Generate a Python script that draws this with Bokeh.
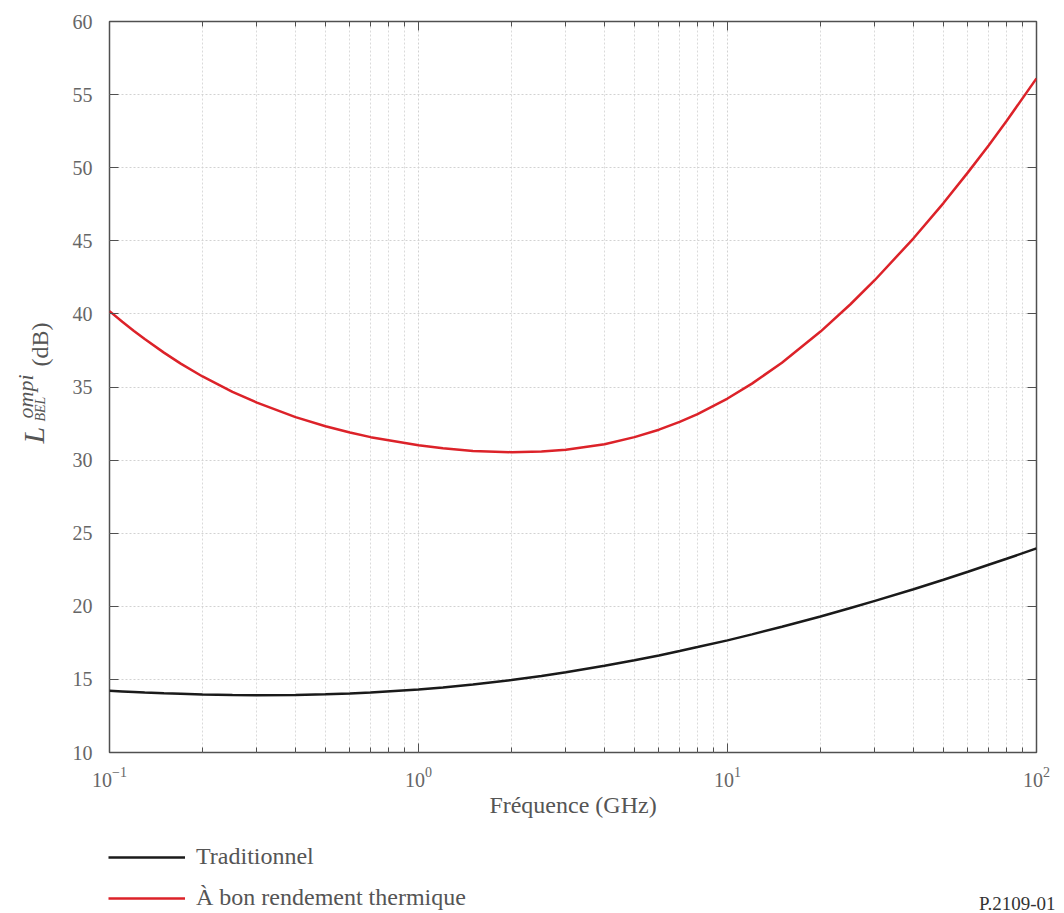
import math
from bokeh.plotting import figure
from bokeh.layouts import row, column
from bokeh.models import (LogAxis, LinearAxis, Legend, LegendItem, FixedTicker,
                          CustomJSTickFormatter, LogTickFormatter)
from bokeh.core.properties import value
from bokeh.embed import file_html
from bokeh.resources import INLINE

# ---- data ----
freq_ghz = [0.1, 0.11, 0.12, 0.13, 0.15, 0.17, 0.2, 0.25, 0.3, 0.4,
            0.5, 0.6, 0.7, 1, 1.2, 1.5, 2, 2.5, 3, 4,
            5, 6, 7, 8, 10, 12, 15, 20, 25, 30,
            40, 50, 60, 70, 80, 100]
traditionnel = [14.22, 14.18, 14.14, 14.10, 14.05, 14.01, 13.96, 13.93, 13.92, 13.93,
                13.98, 14.04, 14.10, 14.31, 14.45, 14.65, 14.96, 15.24, 15.49, 15.93,
                16.31, 16.64, 16.94, 17.21, 17.67, 18.08, 18.60, 19.30, 19.88, 20.37,
                21.17, 21.82, 22.36, 22.84, 23.25, 23.96]
thermique = [40.19, 39.46, 38.83, 38.28, 37.35, 36.60, 35.72, 34.67, 33.93, 32.94,
             32.32, 31.89, 31.57, 31.01, 30.81, 30.63, 30.54, 30.59, 30.71, 31.09,
             31.57, 32.08, 32.61, 33.15, 34.21, 35.23, 36.66, 38.79, 40.66, 42.32,
             45.17, 47.58, 49.68, 51.52, 53.19, 56.11]
series_labels = ["Traditionnel", "À bon rendement thermique"]
x_major_ticks = [0.1, 1, 10, 100]
y_ticks = [10, 15, 20, 25, 30, 35, 40, 45, 50, 55, 60]
x_title = "Fréquence (GHz)"
y_title_main = "L"
y_title_sup = "ompi"
y_title_sub = "BEL"
y_title_unit = "(dB)"
fig_id = "P.2109-01"

FONT = "Liberation Serif"
TXT = "#555555"
TICKTXT = "#666666"
FRAME = "#505050"
BLACK = "#1a1a1a"
RED = "#dc2229"
NAN = float("nan")

x_minor_ticks = [m * d for d in (0.1, 1, 10) for m in range(2, 10)]

LW, HM, HB, W = 60, 830, 83, 1056
TOP, BOT = 21, 78


def blank_fig(w, h, yr):
    f = figure(width=w, height=h, x_range=(0, w), y_range=yr,
               output_backend="svg", toolbar_location=None,
               x_axis_location=None, y_axis_location=None,
               min_border_left=0, min_border_right=0, min_border_top=0, min_border_bottom=0)
    f.outline_line_color = None
    f.grid.visible = False
    f.background_fill_color = "white"
    f.border_fill_color = "white"
    return f


# ---- main plot ----
p = figure(width=W - LW, height=HM, x_axis_type="log", x_range=(0.1, 100), y_range=(10, 60),
           output_backend="svg", toolbar_location=None,
           min_border_left=49, min_border_right=20, min_border_top=TOP, min_border_bottom=BOT)
p.background_fill_color = "white"
p.border_fill_color = "white"
p.outline_line_color = FRAME
p.outline_line_width = 1.5

xt = FixedTicker(ticks=x_major_ticks, minor_ticks=x_minor_ticks)
yt = FixedTicker(ticks=y_ticks, minor_ticks=[])

p.xaxis.ticker = xt
p.xaxis.formatter = LogTickFormatter()
p.yaxis.ticker = yt
for ax in (p.xaxis[0], p.yaxis[0]):
    ax.axis_line_color = None
    ax.major_tick_in = 9
    ax.major_tick_out = 0
    ax.minor_tick_in = 5
    ax.minor_tick_out = 0
    ax.major_tick_line_color = FRAME
    ax.minor_tick_line_color = FRAME
    ax.major_label_text_font = FONT
    ax.major_label_text_font_size = "20px"
    ax.major_label_text_color = TICKTXT
p.xaxis.major_label_standoff = 14
p.yaxis.major_label_standoff = 17
p.xaxis.axis_label = x_title
p.xaxis.axis_label_text_font = FONT
p.xaxis.axis_label_text_font_size = "24px"
p.xaxis.axis_label_text_font_style = "normal"
p.xaxis.axis_label_text_color = TXT
p.xaxis.axis_label_standoff = 2

blank = CustomJSTickFormatter(code="return ''")
top = LogAxis(ticker=xt, formatter=blank, axis_line_color=None, major_tick_in=9, major_tick_out=0,
              minor_tick_in=5, minor_tick_out=0, major_tick_line_color=FRAME,
              minor_tick_line_color=FRAME, major_label_standoff=0,
              major_label_text_font_size="1px")
right = LinearAxis(ticker=yt, formatter=blank, axis_line_color=None, major_tick_in=9,
                   major_tick_out=0, minor_tick_in=0, minor_tick_out=0,
                   major_tick_line_color=FRAME, major_label_standoff=0,
                   major_label_text_font_size="1px")
p.add_layout(top, "above")
p.add_layout(right, "right")

p.xgrid.ticker = xt
p.ygrid.ticker = yt
p.xgrid.grid_line_color = "#d2d2d2"
p.xgrid.grid_line_dash = "2 2"
p.xgrid.minor_grid_line_color = "#dadada"
p.xgrid.minor_grid_line_dash = "2 2"
p.ygrid.grid_line_color = "#d2d2d2"
p.ygrid.grid_line_dash = "2 2"

p.line(freq_ghz, traditionnel, line_color=BLACK, line_width=2.5)
p.line(freq_ghz, thermique, line_color=RED, line_width=2.5)

# ---- left strip: rotated y-axis title L^{ompi}_{BEL} (dB) ----
# the row aligns this strip's frame with the main frame (page y TOP..HM-BOT),
# so a reversed range makes data y equal to page y
lf = blank_fig(LW, HM, (HM - BOT, TOP))
ang = math.pi / 2
common = dict(angle=ang, text_font=value(FONT), text_color=TXT,
              text_align="left", text_baseline="alphabetic")
lf.text(x=[33], y=[443], text=[y_title_main], text_font_style="italic",
        text_font_size="30px", **common)
lf.text(x=[40], y=[421], text=[y_title_sub], text_font_style="italic",
        text_font_size="14px", **common)
lf.text(x=[25], y=[418], text=[y_title_sup], text_font_style="italic",
        text_font_size="22px", **common)
lf.text(x=[39], y=[366], text=[y_title_unit], text_font_size="24px", **common)

# ---- bottom strip: legend and figure id ----
bf = blank_fig(W, HB, (0, HB))
k1 = bf.line(x=[NAN, NAN], y=[NAN, NAN], line_color=BLACK, line_width=2.5)
k2 = bf.line(x=[NAN, NAN], y=[NAN, NAN], line_color=RED, line_width=2.5)
legend = Legend(items=[LegendItem(label=series_labels[0], renderers=[k1]),
                       LegendItem(label=series_labels[1], renderers=[k2])],
                location=(108, 2), orientation="vertical",
                glyph_width=77, glyph_height=26, label_height=26, spacing=14,
                label_standoff=11, padding=0, margin=0, border_line_color=None,
                background_fill_alpha=0, label_text_font=FONT,
                label_text_font_size="24px", label_text_color=TXT)
bf.add_layout(legend)
bf.text(x=[1055], y=[HB - 903 + 830], text=[fig_id], text_font=value(FONT),
        text_font_size="19px", text_color="#333333", text_align="right",
        text_baseline="alphabetic")

layout = column(row(lf, p, spacing=0), bf, spacing=0)
open("out.html", "w").write(file_html(layout, INLINE))
